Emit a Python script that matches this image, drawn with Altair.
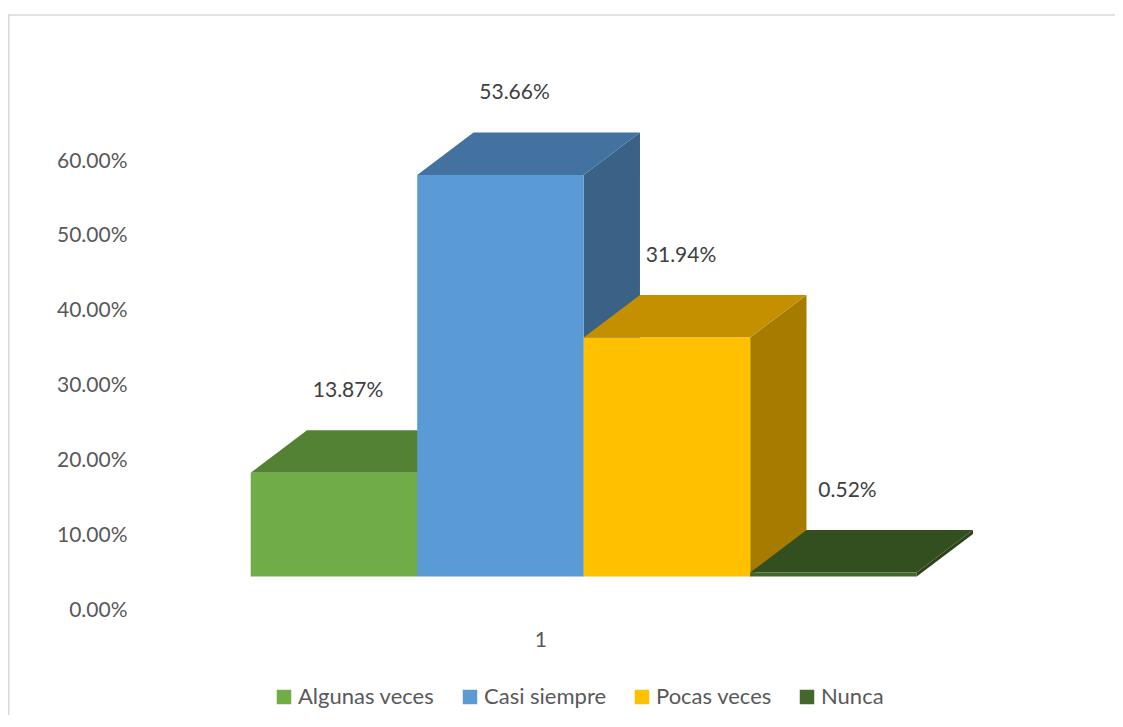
import altair as alt
import pandas as pd

# ---- data ----
categories = ["Algunas veces", "Casi siempre", "Pocas veces", "Nunca"]
values = [13.87, 53.66, 31.94, 0.52]          # percent
y_ticks = [0, 10, 20, 30, 40, 50, 60]
category_label = "1"

# ---- style / pseudo-3D constants ----
front_colors = ["#70AD47", "#5B9BD5", "#FFC000", "#43682B"]
top_colors = ["#548235", "#4372A0", "#C49000", "#334F20"]
side_colors = ["#4A7330", "#3A6286", "#A67C00", "#2C431B"]
FLOOR = 4.48      # front floor in axis units (3D perspective)
DEPTH_X = 0.338   # depth offset, x units (bar widths)
DEPTH_Y = 5.68    # depth offset, axis units
LABEL_GAP = 5.25
CAT_X = 1.742
CAT_Y = -4.1
FONT = "Lato"

front_rows, side_rows, top_rows, label_rows = [], [], [], []
for i, (c, v) in enumerate(zip(categories, values)):
    front_rows.append({"cat": c, "x0": i, "x1": i + 1, "y0": FLOOR, "y1": FLOOR + v})
    side_rows.append({"cat": c, "x": i + 1, "ylo": FLOOR, "yhi": FLOOR + v})
    side_rows.append({"cat": c, "x": i + 1 + DEPTH_X, "ylo": FLOOR + DEPTH_Y, "yhi": FLOOR + v + DEPTH_Y})
    top_rows.append({"cat": c, "y": FLOOR + v, "xl": i, "xr": i + 1})
    top_rows.append({"cat": c, "y": FLOOR + v + DEPTH_Y, "xl": i + DEPTH_X, "xr": i + 1 + DEPTH_X})
    label_rows.append({"cat": c, "x": i + 0.5 + DEPTH_X / 4, "y": FLOOR + v + DEPTH_Y + LABEL_GAP,
                       "text": f"{v:.2f}%"})

front_df = pd.DataFrame(front_rows)
side_df = pd.DataFrame(side_rows)
top_df = pd.DataFrame(top_rows)
label_df = pd.DataFrame(label_rows)
cat_df = pd.DataFrame([{"x": CAT_X, "y": CAT_Y, "text": category_label}])

xscale = alt.Scale(domain=[-0.683, 5.155], nice=False, zero=False)
yscale = alt.Scale(domain=[0, 60], nice=False)
yaxis = alt.Axis(values=y_ticks, labelExpr="format(datum.value, '.2f') + '%'",
                 domain=False, ticks=False, tickSize=0, grid=False, labelPadding=10,
                 labelFontSize=21, labelFont=FONT, labelColor="#595959", title=None)

side = alt.Chart(side_df).mark_area(orient="vertical", opacity=1).encode(
    x=alt.X("x:Q", scale=xscale, axis=None),
    y=alt.Y("yhi:Q", scale=yscale, axis=yaxis, stack=None),
    y2="ylo:Q",
    color=alt.Color("cat:N", scale=alt.Scale(domain=categories, range=side_colors), legend=None),
)

top = alt.Chart(top_df).mark_area(orient="horizontal", opacity=1).encode(
    y=alt.Y("y:Q", scale=yscale, axis=yaxis),
    x=alt.X("xl:Q", scale=xscale, axis=None, stack=None),
    x2="xr:Q",
    color=alt.Color("cat:N", scale=alt.Scale(domain=categories, range=top_colors), legend=None),
)

front = alt.Chart(front_df).mark_rect().encode(
    x=alt.X("x0:Q", scale=xscale, axis=None),
    x2="x1:Q",
    y=alt.Y("y0:Q", scale=yscale, axis=yaxis),
    y2="y1:Q",
    color=alt.Color("cat:N", scale=alt.Scale(domain=categories, range=front_colors),
                    legend=alt.Legend(orient="none", legendX=136, legendY=525, direction="horizontal",
                                      title=None, symbolType="square", symbolSize=210,
                                      symbolStrokeWidth=0, symbolOpacity=1, labelFontSize=22,
                                      labelFont=FONT, labelColor="#595959", labelOffset=3,
                                      columnPadding=24, padding=0)),
)

labels = alt.Chart(label_df).mark_text(font=FONT, fontSize=21, color="#404040",
                                       baseline="middle", align="center").encode(
    x=alt.X("x:Q", scale=xscale, axis=None),
    y=alt.Y("y:Q", scale=yscale, axis=yaxis),
    text="text:N",
)

cat_label = alt.Chart(cat_df).mark_text(font=FONT, fontSize=21, color="#595959",
                                        baseline="middle", align="center").encode(
    x=alt.X("x:Q", scale=xscale, axis=None),
    y=alt.Y("y:Q", scale=yscale, axis=yaxis),
    text="text:N",
)

frame_top = alt.Chart(alt.Data(values=[{}])).mark_rule(color="#D9D9D9", strokeWidth=1.5).encode(
    x=alt.value(-129), x2=alt.value(978), y=alt.value(-146))
frame_left = alt.Chart(alt.Data(values=[{}])).mark_rule(color="#D9D9D9", strokeWidth=1.5).encode(
    x=alt.value(-128.2), y=alt.value(-146.7), y2=alt.value(560))

chart = alt.layer(frame_top, frame_left, side, top, front, labels, cat_label).resolve_scale(
    color="independent"
).properties(
    width=972, height=449,
    autosize=alt.AutoSizeParams(type="none"),
    padding={"left": 129, "top": 153, "right": 6, "bottom": 105},
    background="white",
).configure_view(stroke=None)

chart.save("out.html", embed_options={"renderer": "svg", "actions": False})
